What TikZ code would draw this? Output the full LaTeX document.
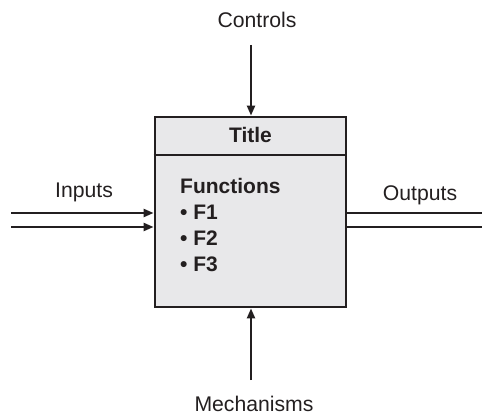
\documentclass[tikz,border=0pt]{standalone}
\usepackage{fontspec}
\setmainfont{Liberation Sans}
\usetikzlibrary{arrows.meta}
\definecolor{boxfill}{HTML}{E8E8EA}
\definecolor{ink}{HTML}{231F20}
\tikzset{
  lbl/.style={font=\fontsize{21.2}{24}\selectfont, text=ink, inner sep=0pt, anchor=base},
  blbl/.style={font=\fontsize{21}{24}\selectfont\bfseries, text=ink, inner sep=0pt, anchor=base west},
  conn/.style={line width=2.2pt, draw=ink, -{Triangle[length=10pt,width=8pt]}},
  plain/.style={line width=2.2pt, draw=ink}
}
\begin{document}
\begin{tikzpicture}[x=1pt,y=-1pt]
\useasboundingbox (0,0) rectangle (482,414);
\node[draw=ink, line width=2.8pt, fill=boxfill, minimum width=191pt, minimum height=190pt, inner sep=0pt] (box) at (250.5,212) {};
\draw[line width=2.2pt, draw=ink] (box.north west |- 0,155) coordinate (dl) -- (box.north east |- 0,155) coordinate (dr);
\node[lbl, font=\fontsize{21}{24}\selectfont\bfseries] (title) at (250.5,142.5) {Title};
\node[blbl] (fn) at (180,194) {Functions};
\node[blbl] (f1) at (180,220) {\textbullet\ F1};
\node[blbl] (f2) at (180,246) {\textbullet\ F2};
\node[blbl] (f3) at (180,272) {\textbullet\ F3};
\node[lbl] (controls) at (257,27.5) {Controls};
\node[lbl] (mech) at (254,411) {Mechanisms};
\node[lbl] (inputs) at (84,197.5) {Inputs};
\node[lbl] (outputs) at (420,200.5) {Outputs};
\coordinate (cs) at (251,45);
\coordinate (ms) at (251,380);
\coordinate (i1) at (11,213);
\coordinate (i2) at (11,227);
\coordinate (o1) at (482,213);
\coordinate (o2) at (482,227);
\draw[conn] (cs) -- (cs |- box.north);
\draw[conn] (ms) -- (ms |- box.south);
\draw[conn] (i1) -- (i1 -| box.west);
\draw[conn] (i2) -- (i2 -| box.west);
\draw[plain] (o1 -| box.east) -- (o1);
\draw[plain] (o2 -| box.east) -- (o2);
\end{tikzpicture}
\end{document}
